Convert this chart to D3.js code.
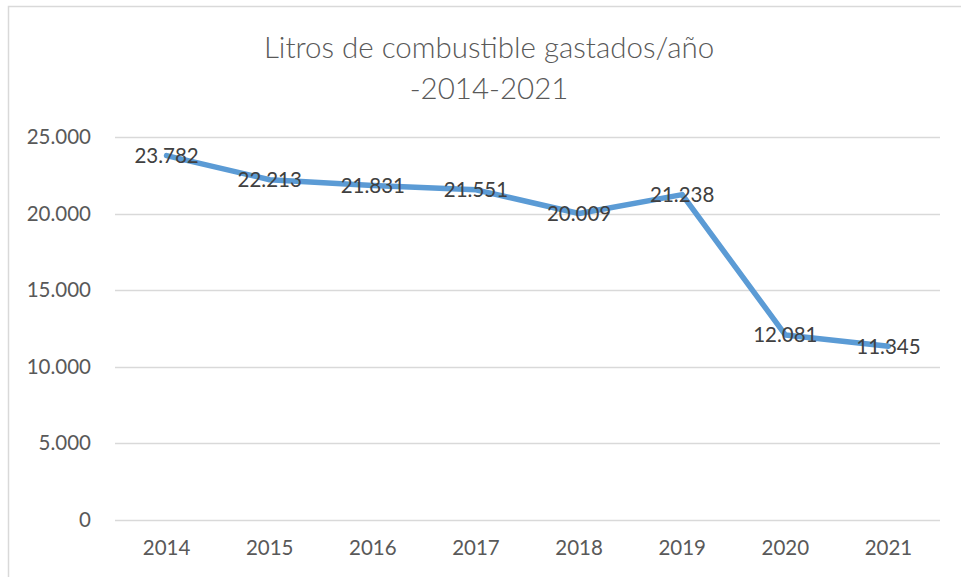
<!DOCTYPE html>
<html>
<head>
<meta charset="utf-8">
<script src="https://cdn.jsdelivr.net/npm/d3@7"></script>
<style>
  body { margin: 0; background: #fff; }
  text { font-family: Lato, "Open Sans", sans-serif; }
</style>
</head>
<body>
<svg id="chart" width="961" height="577"></svg>
<script>
const years = ["2014", "2015", "2016", "2017", "2018", "2019", "2020", "2021"];
const liters = [23782, 22213, 21831, 21551, 20009, 21238, 12081, 11345];
const yTicks = [0, 5000, 10000, 15000, 20000, 25000];
const titleLines = ["Litros de combustible gastados/año", "-2014-2021"];

const svg = d3.select("#chart");
const margin = { top: 137, right: 21, bottom: 57, left: 115 };
const width = 961, height = 577;

// number format with dot as thousands separator
const fmt = d3.formatLocale({ decimal: ",", thousands: ".", grouping: [3], currency: ["", ""] }).format(",d");

// chart frame
svg.append("rect")
    .attr("x", 8.5).attr("y", 6.5)
    .attr("width", 980).attr("height", 600)
    .attr("fill", "#fff")
    .attr("stroke", "#d9d9d9")
    .attr("stroke-width", 1.5);

const x = d3.scaleBand().domain(years).range([margin.left, width - margin.right]);
const y = d3.scaleLinear().domain([0, 25000]).range([height - margin.bottom, margin.top]);

// gridlines
svg.append("g")
    .selectAll("line")
    .data(yTicks)
    .join("line")
    .attr("x1", margin.left).attr("x2", width - margin.right)
    .attr("y1", d => Math.round(y(d)) + 0.5).attr("y2", d => Math.round(y(d)) + 0.5)
    .attr("stroke", "#d9d9d9")
    .attr("stroke-width", 1.5);

// y axis labels
const yAxis = d3.axisLeft(y).tickValues(yTicks).tickFormat(d => d === 0 ? "0" : fmt(d)).tickSize(0).tickPadding(24);
svg.append("g")
    .attr("transform", `translate(${margin.left},0)`)
    .call(yAxis)
    .call(g => g.select(".domain").remove())
    .selectAll("text")
    .attr("font-size", 20.5)
    .attr("font-family", "Lato, sans-serif")
    .attr("fill", "#595959");

// x axis labels
const xAxis = d3.axisBottom(x).tickSize(0).tickPadding(20);
svg.append("g")
    .attr("transform", `translate(0,${height - margin.bottom})`)
    .call(xAxis)
    .call(g => g.select(".domain").remove())
    .selectAll("text")
    .attr("font-size", 20.5)
    .attr("font-family", "Lato, sans-serif")
    .attr("fill", "#595959");

// line
const line = d3.line()
    .x((d, i) => x(years[i]) + x.bandwidth() / 2)
    .y(d => y(d));

svg.append("path")
    .datum(liters)
    .attr("d", line)
    .attr("fill", "none")
    .attr("stroke", "#5b9bd5")
    .attr("stroke-width", 5.5)
    .attr("stroke-linejoin", "round")
    .attr("stroke-linecap", "round");

// data labels
svg.append("g")
    .selectAll("text")
    .data(liters)
    .join("text")
    .attr("x", (d, i) => x(years[i]) + x.bandwidth() / 2)
    .attr("y", d => y(d))
    .attr("dy", "0.36em")
    .attr("text-anchor", "middle")
    .attr("font-size", 20.5)
    .attr("fill", "#404040")
    .text(d => fmt(d));

// title
svg.append("g")
    .selectAll("text")
    .data(titleLines)
    .join("text")
    .attr("x", 489)
    .attr("y", (d, i) => 58 + i * 41)
    .attr("text-anchor", "middle")
    .attr("font-size", 29.5)
    .attr("font-weight", 300)
    .attr("fill", "#595959")
    .text(d => d);
</script>
</body>
</html>
